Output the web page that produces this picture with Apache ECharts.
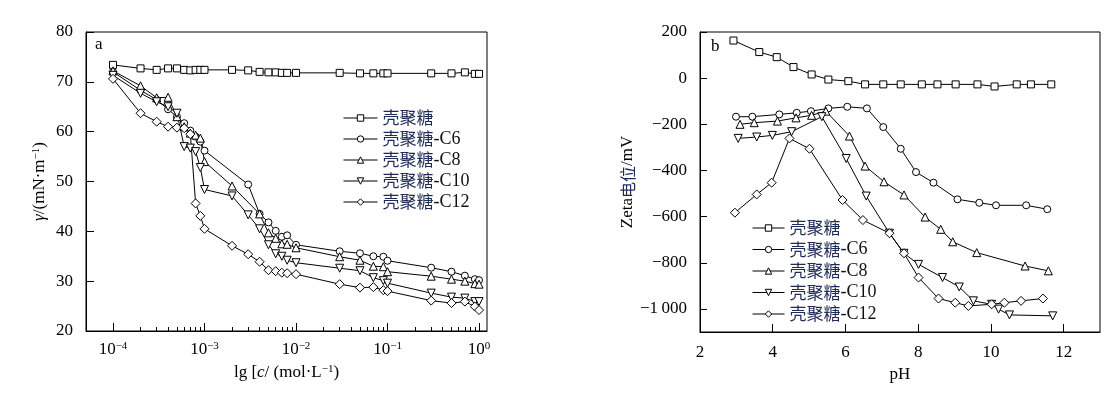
<!DOCTYPE html>
<html>
<head>
<meta charset="utf-8">
<script src="https://cdn.jsdelivr.net/npm/echarts@6/dist/echarts.min.js"></script>
<style>
  html, body { margin: 0; padding: 0; background: #fff; }
  #main { width: 1119px; height: 398px; }
</style>
</head>
<body>
<div id="main"></div>
<script>
// 图a：表面张力 vs 浓度（对数坐标）
var seriesNames = ['壳聚糖', '壳聚糖-C6', '壳聚糖-C8', '壳聚糖-C10', '壳聚糖-C12'];

var concChitosan = [1e-4, 2e-4, 3e-4, 4e-4, 5e-4, 6e-4, 7e-4, 8e-4, 9e-4, 1e-3,
  2e-3, 3e-3, 4e-3, 5e-3, 6e-3, 7e-3, 8e-3, 1e-2,
  3e-2, 5e-2, 7e-2, 9e-2, 1e-1, 3e-1, 5e-1, 7e-1, 9e-1, 1];
var gammaChitosan = [73.4, 72.7, 72.4, 72.7, 72.7, 72.4, 72.3, 72.4, 72.4, 72.4,
  72.4, 72.3, 72.0, 71.9, 71.9, 71.8, 71.8, 71.8,
  71.8, 71.7, 71.7, 71.7, 71.7, 71.7, 71.7, 71.9, 71.6, 71.6];

var concC = [1e-4, 2e-4, 3e-4, 4e-4, 5e-4, 6e-4, 7e-4, 8e-4, 9e-4, 1e-3,
  2e-3, 3e-3, 4e-3, 5e-3, 6e-3, 7e-3, 8e-3, 1e-2,
  3e-2, 5e-2, 7e-2, 9e-2, 1e-1, 3e-1, 5e-1, 7e-1, 9e-1, 1];
var gammaC6 = [72.0, 68.3, 66.4, 64.5, 63.0, 61.7, 60.2, 59.0, 58.0, 56.2,
  null, 49.4, 43.5, 41.8, 40.1, 38.9, 39.2, 37.3,
  36.0, 35.6, 35.0, 34.9, 34.1, 32.7, 31.9, 31.1, 30.4, 30.2];
var gammaC8 = [72.2, 69.2, 66.8, 66.9, 63.0, 61.0, 59.7, 59.3, 58.7, 54.0,
  49.1, null, 43.5, 39.7, 38.6, 37.5, 37.4, 36.7,
  34.9, 34.2, 33.0, 32.9, 31.9, 31.0, 30.4, 30.0, 29.5, 29.4];
var gammaC10 = [71.3, 67.7, 66.0, 65.0, 63.7, 57.0, 56.7, 56.0, 52.8, 48.4,
  47.1, 43.3, 40.5, 37.3, 35.5, 35.0, 34.2, 33.7,
  32.6, 32.1, 30.7, 30.1, 29.6, 27.6, 26.8, 26.6, 25.9, 25.9];
var gammaC12 = [70.6, 63.7, 62.0, 61.0, 60.8, 60.7, 59.5, 45.6, 43.1, 40.5,
  37.1, 35.4, 33.9, 32.2, 32.0, 31.7, 31.6, 31.4,
  29.4, 28.7, 28.8, 28.2, 28.0, 26.1, 25.6, 25.9, 24.9, 24.2];

var logMajorTicks = [1e-4, 1e-3, 1e-2, 1e-1, 1];
var logMinorTicks = [];
[1e-4, 1e-3, 1e-2, 1e-1].forEach(function (d) {
  for (var k = 2; k <= 9; k++) logMinorTicks.push(d * k);
});
var gammaTicks = [20, 30, 40, 50, 60, 70, 80];

// 图b：Zeta电位 vs pH
var phChitosan = [2.92, 3.63, 4.11, 4.57, 5.07, 5.53, 6.08, 6.54, 7.04, 7.52, 8.10, 8.53, 9.03, 9.63, 10.10, 10.71, 11.10, 11.66];
var zetaChitosan = [163, 113, 91, 48, 16, -6, -13, -27, -27, -27, -27, -27, -27, -27, -36, -27, -27, -27];
var phC6 = [2.99, 3.44, 4.18, 4.66, 5.05, 5.53, 6.05, 6.59, 7.04, 7.52, 7.94, 8.42, 9.08, 9.68, 10.14, 10.97, 11.55];
var zetaC6 = [-167, -167, -157, -150, -143, -131, -124, -131, -212, -306, -407, -453, -525, -540, -551, -551, -568];
var phC8 = [3.10, 3.49, 4.13, 4.64, 5.07, 5.46, 6.11, 6.54, 7.06, 7.61, 8.19, 8.62, 8.95, 9.61, 10.94, 11.58];
var zetaC8 = [-200, -193, -186, -172, -161, -143, -251, -381, -449, -506, -602, -655, -709, -756, -814, -835];
var phC10 = [3.05, 3.56, 3.99, 4.52, 5.35, 6.02, 6.57, 7.21, 7.61, 8.01, 8.67, 9.13, 9.52, 10.02, 10.21, 10.51, 11.70];
var zetaC10 = [-261, -255, -248, -232, -167, -348, -511, -672, -759, -807, -864, -905, -965, -980, -1001, -1026, -1030];
var phC12 = [2.96, 3.56, 3.97, 4.46, 5.01, 5.92, 6.48, 7.21, 7.61, 8.01, 8.56, 9.02, 9.38, 10.02, 10.37, 10.83, 11.43];
var zetaC12 = [-583, -504, -453, -261, -306, -528, -615, -672, -759, -864, -955, -973, -987, -980, -973, -965, -955];

var phTicks = [2, 4, 6, 8, 10, 12];
var zetaTicks = [-1000, -800, -600, -400, -200, 0, 200];

var SERIF = "'Liberation Serif', 'Times New Roman', serif";
var CJK = "'Noto Sans CJK SC', sans-serif";

function pairs(xs, ys) {
  return xs.map(function (x, i) { return [x, ys[i]]; });
}

var symbols = [
  { symbol: 'rect', rotate: 0, size: 7 },
  { symbol: 'circle', rotate: 0, size: 7 },
  { symbol: 'triangle', rotate: 0, size: 8 },
  { symbol: 'triangle', rotate: 180, size: 8 },
  { symbol: 'diamond', rotate: 0, size: 9 }
];

function makeSeries(i, data, xi, yi) {
  return {
    name: seriesNames[i],
    type: 'line',
    xAxisIndex: xi,
    yAxisIndex: yi,
    data: data,
    connectNulls: true,
    symbol: symbols[i].symbol,
    symbolRotate: symbols[i].rotate,
    symbolSize: symbols[i].size,
    showAllSymbol: true,
    itemStyle: { color: '#fff', borderColor: '#000', borderWidth: 1 },
    lineStyle: { color: '#000', width: 1 },
    emphasis: { disabled: true },
    animation: false
  };
}

var supRich = {
  sup: { fontSize: 11, fontFamily: SERIF, color: '#000', verticalAlign: 'top', lineHeight: 18 },
  it: { fontStyle: 'italic', fontSize: 17, fontFamily: SERIF, color: '#000' },
  cn: { fontFamily: CJK, fontSize: 16, color: '#1e2b55' }
};

function legendFmt(name) {
  var k = name.indexOf('-');
  var cn = k < 0 ? name : name.slice(0, k);
  var en = k < 0 ? '' : name.slice(k);
  return '{cn|' + cn + '}' + (en ? '{en|' + en + '}' : '');
}

var legendText = {
  lineHeight: 18,
  rich: {
    cn: { fontFamily: CJK, fontSize: 17, color: '#1e2b55', lineHeight: 18 },
    en: { fontFamily: SERIF, fontSize: 18, color: '#111', lineHeight: 18 }
  }
};
var legendItemStyle = { color: '#fff', borderColor: '#000', borderWidth: 1 };
var legendLineStyle = { color: '#000', width: 1 };

function zetaLabel(v) {
  if (v === 0) return '0';
  var a = Math.abs(v);
  var s = a >= 1000 ? Math.floor(a / 1000) + '\u2009' + String(a % 1000).padStart(3, '0') : String(a);
  return v < 0 ? '\u2212' + s : s;
}

var axisLineStyle = { onZero: false, lineStyle: { color: '#000', width: 1 } };

var chart = echarts.init(document.getElementById('main'));
chart.setOption({
  animation: false,
  backgroundColor: '#fff',
  title: [
    { text: 'a', left: 95, top: 36, padding: 0, textStyle: { fontFamily: SERIF, fontSize: 17, fontWeight: 'normal', color: '#000' } },
    { text: 'b', left: 711, top: 38, padding: 0, textStyle: { fontFamily: SERIF, fontSize: 17, fontWeight: 'normal', color: '#000' } }
  ],
  legend: [
    { left: 338, top: 104, orient: 'vertical', itemWidth: 34, itemHeight: 8, itemGap: 3,
      data: seriesNames, formatter: legendFmt, textStyle: legendText, selectedMode: false,
      itemStyle: legendItemStyle, lineStyle: legendLineStyle },
    { left: 747, top: 214, orient: 'vertical', itemWidth: 32, itemHeight: 8, itemGap: 3.5,
      data: seriesNames, formatter: legendFmt, textStyle: legendText, selectedMode: false,
      itemStyle: legendItemStyle, lineStyle: legendLineStyle }
  ],
  grid: [
    { left: 86, top: 32, width: 401, height: 299, show: true, borderColor: '#000', borderWidth: 1 },
    { left: 700, top: 32, width: 400, height: 300, show: true, borderColor: '#000', borderWidth: 1 }
  ],
  xAxis: [
    {
      gridIndex: 0, type: 'log', logBase: 10,
      min: Math.pow(10, -4.295), max: Math.pow(10, 0.087),
      axisLine: axisLineStyle,
      axisTick: { inside: true, length: 8, customValues: logMajorTicks, lineStyle: { color: '#000' } },
      axisLabel: {
        customValues: logMajorTicks, margin: 10, color: '#000', fontFamily: SERIF, fontSize: 17,
        formatter: function (v) {
          var e = Math.round(Math.log10(v));
          return '10{sup|' + (e < 0 ? '\u2212' + (-e) : e) + '}';
        },
        rich: supRich
      },
      splitLine: { show: false },
      name: 'lg [{it|c}/ (mol·L{sup|\u22121})', nameLocation: 'middle', nameGap: 32,
      nameTextStyle: { fontFamily: SERIF, fontSize: 17, color: '#000', rich: supRich }
    },
    {
      gridIndex: 0, type: 'log', logBase: 10, position: 'bottom',
      min: Math.pow(10, -4.295), max: Math.pow(10, 0.087),
      axisLine: { show: false, onZero: false },
      axisTick: { inside: true, length: 4, customValues: logMinorTicks, lineStyle: { color: '#000' } },
      axisLabel: { show: false },
      splitLine: { show: false }
    },
    {
      gridIndex: 1, type: 'value', min: 2, max: 13,
      axisLine: axisLineStyle,
      axisTick: { inside: true, length: 8, customValues: phTicks, lineStyle: { color: '#000' } },
      axisLabel: { customValues: phTicks, margin: 12, color: '#000', fontFamily: SERIF, fontSize: 17 },
      splitLine: { show: false },
      name: 'pH', nameLocation: 'middle', nameGap: 31,
      nameTextStyle: { fontFamily: SERIF, fontSize: 17, color: '#000' }
    }
  ],
  yAxis: [
    {
      gridIndex: 0, type: 'value', min: 20, max: 80,
      axisLine: axisLineStyle,
      axisTick: { inside: true, length: 8, customValues: gammaTicks, lineStyle: { color: '#000' } },
      axisLabel: { customValues: gammaTicks, margin: 13, color: '#000', fontFamily: SERIF, fontSize: 17 },
      splitLine: { show: false },
      name: '{it|γ}/(mN·m{sup|\u22121})', nameLocation: 'middle', nameGap: 37,
      nameTextStyle: { fontFamily: SERIF, fontSize: 17, color: '#000', rich: supRich }
    },
    {
      gridIndex: 1, type: 'value', min: -1100, max: 200,
      axisLine: axisLineStyle,
      axisTick: { inside: true, length: 7, customValues: zetaTicks, lineStyle: { color: '#000' } },
      axisLabel: { customValues: zetaTicks, margin: 13, color: '#000', fontFamily: SERIF, fontSize: 17, formatter: zetaLabel },
      splitLine: { show: false },
      name: 'Zeta{cn|电位}/mV', nameLocation: 'middle', nameGap: 62,
      nameTextStyle: { fontFamily: SERIF, fontSize: 17, color: '#000', rich: supRich }
    }
  ],
  series: [
    makeSeries(0, pairs(concChitosan, gammaChitosan), 0, 0),
    makeSeries(1, pairs(concC, gammaC6), 0, 0),
    makeSeries(2, pairs(concC, gammaC8), 0, 0),
    makeSeries(3, pairs(concC, gammaC10), 0, 0),
    makeSeries(4, pairs(concC, gammaC12), 0, 0),
    makeSeries(0, pairs(phChitosan, zetaChitosan), 2, 1),
    makeSeries(1, pairs(phC6, zetaC6), 2, 1),
    makeSeries(2, pairs(phC8, zetaC8), 2, 1),
    makeSeries(3, pairs(phC10, zetaC10), 2, 1),
    makeSeries(4, pairs(phC12, zetaC12), 2, 1)
  ]
});
</script>
</body>
</html>
